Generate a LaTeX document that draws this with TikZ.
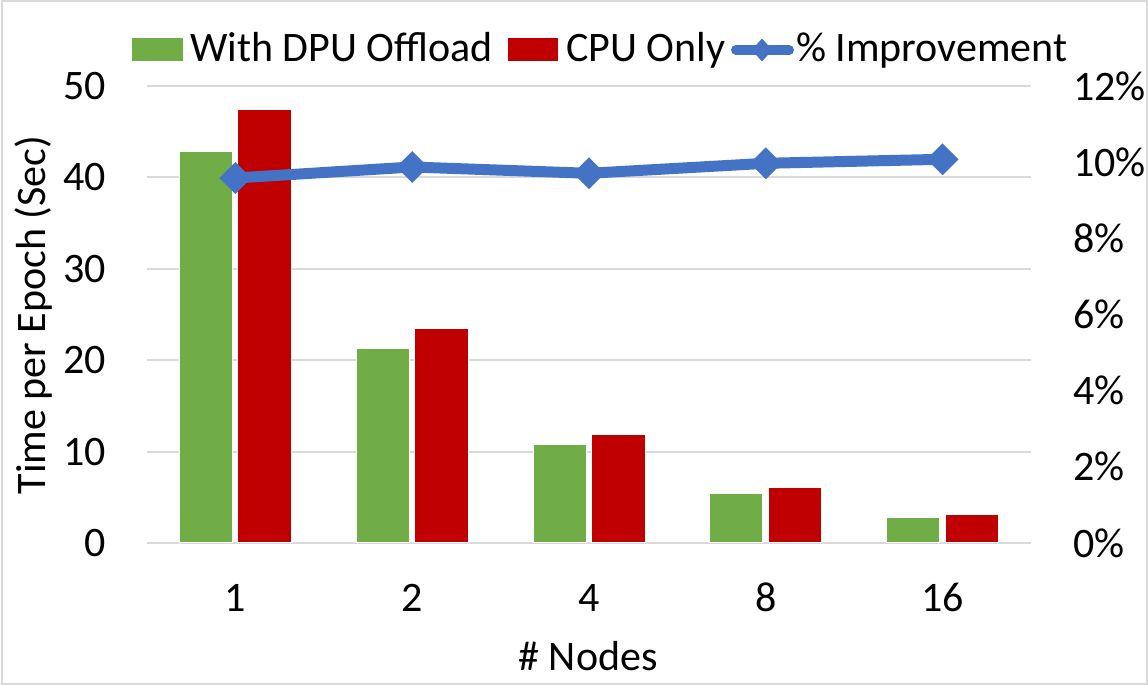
\documentclass[tikz,border=0pt]{standalone}
\usepackage{fontspec}
\setmainfont{Carlito}
\usetikzlibrary{shapes.geometric}
\definecolor{dpugreen}{HTML}{70AD47}
\definecolor{cpured}{HTML}{C00000}
\definecolor{impblue}{HTML}{4472C4}
\definecolor{gridgray}{HTML}{D9D9D9}
\begin{document}
\begin{tikzpicture}[x=1pt,y=-1pt,
  lbl/.style={inner sep=0pt,font=\fontsize{42}{50}\selectfont},
  gridline/.style={draw=gridgray,line width=2pt},
  greenbar/.style={fill=dpugreen,draw=white,line width=1pt},
  redbar/.style={fill=cpured,draw=white,line width=1pt},
  impline/.style={draw=impblue,line width=11pt,line join=round,line cap=round},
  dmark/.style={diamond,fill=impblue,inner sep=0pt,minimum width=32pt,minimum height=32pt},
  legmark/.style={diamond,fill=impblue,inner sep=0pt,minimum width=21pt,minimum height=23pt}]
\useasboundingbox (0,0) rectangle (1148,685);
\fill[white] (0,0) rectangle (1148,685);
\draw[gridgray,line width=2pt] (1.5,1.5) rectangle (1146.5,683.5);
% gridlines and left axis labels
\foreach \v/\y in {0/543,10/451.6,20/360.2,30/268.8,40/177.4,50/86}{
  \draw[gridline] (147,\y) -- (1031,\y);
  \node[lbl,anchor=east] (yl\v) at (106,\y) {\v};
}
% right axis labels
\foreach \p/\y in {0/543,2/466.8,4/390.7,6/314.5,8/238.3,10/162.2,12/86}{
  \node[lbl,anchor=west] (yr\p) at (1073,\y) {\p\%};
}
% bars
\foreach \c/\g/\r in {235.4/151.7/109, 412.2/348.7/328.3, 589/444.3/434.3, 765.8/493.3/487.7, 942.6/517.3/514.7}{
  \filldraw[greenbar] (\c-56,\g) rectangle (\c-3,542);
  \filldraw[redbar] (\c+2.5,\r) rectangle (\c+56,542);
}
% x labels
\foreach \c/\t in {235.4/1,412.2/2,589/4,765.8/8,942.6/16}{
  \node[lbl,anchor=base] (xl\t) at (\c,611) {\t};
}
% axis titles
\node[lbl,anchor=base] (xtitle) at (588,670) {\# Nodes};
\node[lbl,anchor=base,rotate=90] (ytitle) at (45,315) {Time per Epoch (Sec)};
% improvement line
\node[dmark] (p1) at (235.4,178) {};
\node[dmark] (p2) at (412.2,167) {};
\node[dmark] (p3) at (589,173.3) {};
\node[dmark] (p4) at (765.8,163.3) {};
\node[dmark] (p5) at (942.6,159.3) {};
\draw[impline] (p1.center) -- (p2.center) -- (p3.center) -- (p4.center) -- (p5.center);
% legend
\fill[dpugreen] (132,38) rectangle (183,61);
\node[lbl,anchor=base west] (leg1) at (190,62) {With DPU Offload};
\fill[cpured] (508,38) rectangle (558,61);
\node[lbl,anchor=base west] (leg2) at (566,62) {CPU Only};
\coordinate (la) at (736,50);
\coordinate (lb) at (789,50);
\draw[impblue,line width=10pt,line cap=round] (la) -- (lb);
\node[legmark] (lm) at (762,50) {};
\node[lbl,anchor=base west] (leg3) at (796,62) {\% Improvement};
\end{tikzpicture}
\end{document}
